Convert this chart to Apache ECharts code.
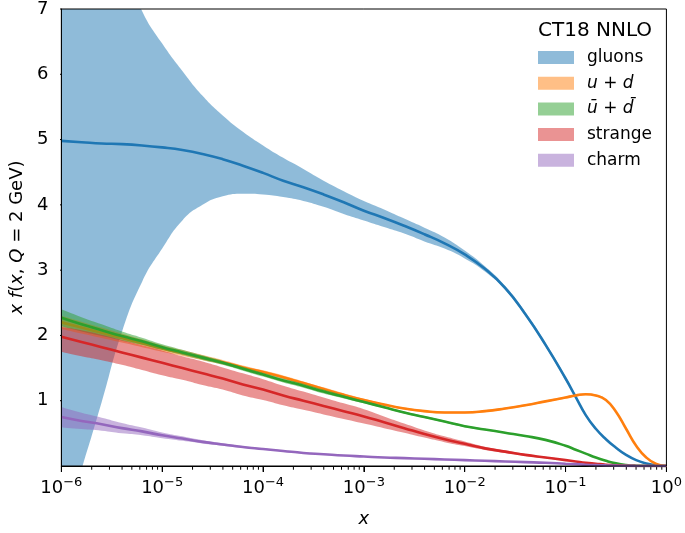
<!DOCTYPE html>
<html><head><meta charset="utf-8">
<script src="https://cdn.jsdelivr.net/npm/echarts@6/dist/echarts.min.js"></script>
<style>html,body{margin:0;padding:0;background:#fff}#c{width:685px;height:533px}</style>
</head><body><div id="c"></div>
<script>
// x sample points: 10^-6 ... 10^-1 every 0.2 decade, then every 0.1 decade up to 1
const xGrid = [1e-6, 1.585e-6, 2.512e-6, 3.981e-6, 6.310e-6,
  1e-5, 1.585e-5, 2.512e-5, 3.981e-5, 6.310e-5,
  1e-4, 1.585e-4, 2.512e-4, 3.981e-4, 6.310e-4,
  1e-3, 1.585e-3, 2.512e-3, 3.981e-3, 6.310e-3,
  1e-2, 1.585e-2, 2.512e-2, 3.981e-2, 6.310e-2,
  0.1, 0.1259, 0.1585, 0.1995, 0.2512, 0.3162, 0.3981, 0.5012, 0.6310, 0.7943, 1.0];

const gluonMid  = [4.98, 4.96, 4.94, 4.93, 4.91, 4.88, 4.84, 4.78, 4.70, 4.60, 4.49, 4.37, 4.27, 4.16, 4.04, 3.91, 3.80, 3.68, 3.55, 3.41, 3.24, 3.02, 2.73, 2.33, 1.86, 1.34, 1.06, 0.78, 0.57, 0.41, 0.28, 0.17, 0.09, 0.04, 0.01, 0];
const gluonLow  = [-1.0, -0.05, 0.98, 2.05, 2.82, 3.33, 3.76, 4.00, 4.13, 4.17, 4.16, 4.12, 4.06, 3.97, 3.86, 3.76, 3.66, 3.56, 3.44, 3.33, 3.18, 2.98, 2.70, 2.30, 1.83, 1.31, 1.04, 0.76, 0.55, 0.40, 0.27, 0.16, 0.085, 0.037, 0.009, 0];
const gluonHigh = [10.5, 9.6, 8.75, 7.75, 6.97, 6.47, 6.05, 5.67, 5.37, 5.12, 4.91, 4.72, 4.55, 4.37, 4.21, 4.06, 3.93, 3.79, 3.65, 3.50, 3.30, 3.06, 2.76, 2.36, 1.89, 1.37, 1.08, 0.80, 0.59, 0.42, 0.29, 0.18, 0.095, 0.043, 0.011, 0];

const udMid  = [2.20, 2.12, 2.04, 1.96, 1.88, 1.80, 1.73, 1.66, 1.59, 1.51, 1.44, 1.36, 1.27, 1.18, 1.09, 1.01, 0.94, 0.88, 0.84, 0.82, 0.82, 0.84, 0.88, 0.93, 0.99, 1.05, 1.08, 1.10, 1.08, 1.01, 0.83, 0.57, 0.31, 0.13, 0.03, 0];
const udLow  = [2.10, 2.03, 1.96, 1.89, 1.82, 1.75, 1.685, 1.62, 1.555, 1.48, 1.415, 1.335, 1.245, 1.155, 1.065, 0.99, 0.925, 0.865, 0.825, 0.805, 0.805, 0.825, 0.865, 0.915, 0.975, 1.035, 1.065, 1.085, 1.065, 0.995, 0.82, 0.56, 0.305, 0.127, 0.028, 0];
const udHigh = [2.30, 2.21, 2.12, 2.03, 1.94, 1.85, 1.775, 1.70, 1.625, 1.54, 1.465, 1.385, 1.295, 1.205, 1.115, 1.03, 0.955, 0.895, 0.855, 0.835, 0.835, 0.855, 0.895, 0.945, 1.005, 1.065, 1.095, 1.115, 1.095, 1.025, 0.84, 0.58, 0.315, 0.133, 0.032, 0];

const seaMid  = [2.27, 2.17, 2.08, 1.99, 1.91, 1.82, 1.74, 1.66, 1.58, 1.49, 1.40, 1.31, 1.23, 1.14, 1.06, 0.98, 0.90, 0.82, 0.75, 0.68, 0.61, 0.56, 0.51, 0.46, 0.40, 0.31, 0.25, 0.19, 0.13, 0.08, 0.04, 0.015, 0.004, 0.001, 0, 0];
const seaLow  = [2.14, 2.06, 1.99, 1.92, 1.855, 1.775, 1.70, 1.625, 1.55, 1.46, 1.37, 1.28, 1.20, 1.11, 1.035, 0.96, 0.885, 0.805, 0.735, 0.665, 0.595, 0.548, 0.50, 0.45, 0.39, 0.30, 0.242, 0.182, 0.124, 0.075, 0.036, 0.012, 0.003, 0.001, 0, 0];
const seaHigh = [2.40, 2.28, 2.17, 2.06, 1.965, 1.865, 1.78, 1.695, 1.61, 1.52, 1.43, 1.34, 1.26, 1.17, 1.085, 1.00, 0.915, 0.835, 0.765, 0.695, 0.625, 0.572, 0.52, 0.47, 0.41, 0.32, 0.258, 0.198, 0.136, 0.085, 0.044, 0.018, 0.005, 0.001, 0, 0];

const strMid  = [1.98, 1.90, 1.82, 1.74, 1.66, 1.58, 1.50, 1.42, 1.34, 1.25, 1.17, 1.08, 1.00, 0.92, 0.84, 0.76, 0.67, 0.58, 0.49, 0.41, 0.34, 0.27, 0.22, 0.17, 0.13, 0.09, 0.07, 0.05, 0.035, 0.02, 0.01, 0.004, 0.001, 0, 0, 0];
const strLow  = [1.75, 1.68, 1.62, 1.55, 1.47, 1.39, 1.32, 1.24, 1.17, 1.08, 1.01, 0.93, 0.86, 0.79, 0.72, 0.65, 0.58, 0.51, 0.435, 0.365, 0.305, 0.245, 0.20, 0.155, 0.118, 0.08, 0.062, 0.044, 0.031, 0.017, 0.008, 0.003, 0.001, 0, 0, 0];
const strHigh = [2.13, 2.08, 2.01, 1.93, 1.85, 1.77, 1.68, 1.60, 1.51, 1.42, 1.33, 1.23, 1.14, 1.05, 0.96, 0.87, 0.76, 0.65, 0.545, 0.455, 0.375, 0.295, 0.24, 0.185, 0.142, 0.10, 0.078, 0.056, 0.039, 0.023, 0.012, 0.005, 0.001, 0, 0, 0];

const chmMid  = [0.75, 0.69, 0.64, 0.58, 0.53, 0.47, 0.42, 0.37, 0.33, 0.29, 0.26, 0.23, 0.20, 0.18, 0.16, 0.145, 0.13, 0.12, 0.11, 0.10, 0.09, 0.08, 0.07, 0.06, 0.05, 0.035, 0.028, 0.02, 0.014, 0.009, 0.005, 0.002, 0.001, 0, 0, 0];
const chmLow  = [0.595, 0.565, 0.54, 0.50, 0.47, 0.425, 0.385, 0.345, 0.31, 0.275, 0.248, 0.22, 0.19, 0.17, 0.152, 0.137, 0.123, 0.113, 0.104, 0.094, 0.085, 0.075, 0.065, 0.056, 0.046, 0.032, 0.025, 0.018, 0.012, 0.008, 0.004, 0.002, 0.001, 0, 0, 0];
const chmHigh = [0.905, 0.815, 0.74, 0.66, 0.59, 0.515, 0.455, 0.395, 0.35, 0.305, 0.272, 0.24, 0.21, 0.19, 0.168, 0.153, 0.137, 0.127, 0.116, 0.106, 0.095, 0.085, 0.075, 0.064, 0.054, 0.038, 0.031, 0.022, 0.016, 0.010, 0.006, 0.002, 0.001, 0, 0, 0];

const legendTitle = 'CT18 NNLO';
const seriesNames = ['gluons', 'u + d', 'ū + d̄', 'strange', 'charm'];
const yTickValues = [1, 2, 3, 4, 5, 6, 7];
const xMajorTicks = [1e-6, 1e-5, 1e-4, 1e-3, 1e-2, 1e-1, 1];

const FONT = 'DejaVu Sans';
const colors = ['#1f77b4', '#ff7f0e', '#2ca02c', '#d62728', '#9467bd'];
const bandColors = ['rgba(31,119,180,0.5)', 'rgba(255,127,14,0.5)', 'rgba(44,160,44,0.5)', 'rgba(214,39,40,0.5)', 'rgba(148,103,189,0.5)'];
const groups = [
  [gluonLow, gluonHigh, gluonMid],
  [udLow, udHigh, udMid],
  [seaLow, seaHigh, seaMid],
  [strLow, strHigh, strMid],
  [chmLow, chmHigh, chmMid]
];

// minor tick positions of the log axis (2..9 x 10^n)
const minorTicks = [];
for (let e = -6; e < 0; e++) for (let m = 2; m <= 9; m++) minorTicks.push(m * Math.pow(10, e));

const SMOOTH = 0.5;
const series = [];
groups.forEach((g, k) => {
  const [lo, hi, mid] = g;
  // band: lower edge (invisible) + stacked width; data as [y, x] so the stack acts on y
  series.push({
    type: 'line', stack: 'band' + k, stackStrategy: 'all', symbol: 'none', silent: true, smooth: SMOOTH,
    encode: { x: 1, y: 0 },
    data: xGrid.map((x, i) => [lo[i], x]),
    lineStyle: { width: 0, opacity: 0 }, z: 2 + k * 2
  });
  series.push({
    name: seriesNames[k], type: 'line', stack: 'band' + k, stackStrategy: 'all', symbol: 'none', silent: true, smooth: SMOOTH,
    encode: { x: 1, y: 0 },
    data: xGrid.map((x, i) => [hi[i] - lo[i], x]),
    lineStyle: { width: 0, opacity: 0 }, itemStyle: { color: bandColors[k] },
    areaStyle: { color: bandColors[k], opacity: 1 }, z: 2 + k * 2
  });
  series.push({
    type: 'line', symbol: 'none', silent: true, smooth: SMOOTH,
    data: xGrid.map((x, i) => [x, mid[i]]),
    lineStyle: { width: 2.6, color: colors[k] }, z: 3 + k * 2
  });
});

// tick marks drawn as short broken line segments outside the plot (not clipped)
const MINOR_LEN = 0.057;           // ~3.8 px in y units
const MAJOR_LEN = 0.09;            // ~6 px in y units
const YTICK_X0 = 8.64e-7;          // ~6.5 px left of 1e-6 on the log axis
const xTickData = [];
minorTicks.forEach(v => { xTickData.push([v, 0], [v, -MINOR_LEN], [v, null]); });
xMajorTicks.forEach(v => { xTickData.push([v, 0], [v, -MAJOR_LEN], [v, null]); });
const yTickData = [];
yTickValues.forEach(v => { yTickData.push([YTICK_X0, v], [1e-6, v], [1e-6, null]); });
series.push({
  type: 'line', clip: false, symbol: 'none', connectNulls: false,
  lineStyle: { color: '#000', width: 1 }, data: xTickData
});
series.push({
  type: 'line', clip: false, symbol: 'none', connectNulls: false,
  lineStyle: { color: '#000', width: 1 }, data: yTickData
});
// plot frame (spines) on top of the bands
series.push({
  type: 'line', clip: false, symbol: 'none', z: 20,
  lineStyle: { color: '#000', width: 1 },
  data: [[1e-6, 0], [1e-6, 7], [1, 7], [1, 0], [1e-6, 0]]
});

const axisLineStyle = { color: '#000', width: 1 };
const option = {
  animation: false,
  backgroundColor: '#fff',
  grid: { left: 56, right: 17, top: 7, bottom: 60 },
  title: {
    text: legendTitle, left: 538, top: 21, padding: 0,
    textStyle: { fontFamily: FONT, fontSize: 20, fontWeight: 'normal', color: '#000' }
  },
  legend: {
    orient: 'vertical', left: 538, top: 49, padding: 0,
    itemWidth: 36, itemHeight: 13, itemGap: 8.7,
    data: seriesNames.map((n, k) => ({ name: n, icon: 'rect', itemStyle: { color: bandColors[k], borderWidth: 0 } })),
    formatter: name => {
      if (name === 'u + d') return '{i|u} + {i|d}';
      if (name === 'ū + d̄') return '{i|ū} + {i|d̄}';
      return name;
    },
    textStyle: {
      fontFamily: FONT, fontSize: 17, color: '#000', padding: [0, 0, 0, 8],
      rich: { i: { fontFamily: FONT, fontSize: 17, fontStyle: 'italic', color: '#000' } }
    }
  },
  xAxis: [{
    type: 'log', min: 1e-6, max: 1,
    axisLine: { show: true, lineStyle: axisLineStyle },
    axisTick: { show: true, length: 6, lineStyle: { color: '#000', width: 1 } },
    splitLine: { show: false },
    axisLabel: {
      margin: 10, color: '#000',
      formatter: v => {
        const e = Math.round(Math.log10(v));
        return '{b|10}{s|' + (e < 0 ? '\u2212' + (-e) : e) + '}';
      },
      rich: {
        b: { fontFamily: FONT, fontSize: 18, color: '#000', verticalAlign: 'bottom' },
        s: { fontFamily: FONT, fontSize: 13, color: '#000', verticalAlign: 'bottom', padding: [0, 0, 8, 0] }
      }
    },
    name: 'x', nameLocation: 'middle', nameGap: 44,
    nameTextStyle: { fontFamily: FONT, fontSize: 18, fontStyle: 'italic', color: '#000' }
  }],
  yAxis: [{
    type: 'value', min: 0, max: 7, interval: 1,
    axisLine: { show: true, lineStyle: axisLineStyle },
    axisTick: { show: false }, splitLine: { show: false },
    axisLabel: {
      margin: 13, fontFamily: FONT, fontSize: 18, color: '#000',
      formatter: v => (v === 0 ? '' : String(v))
    },
    name: '{i|x} {i|f}({i|x}, {i|Q} = 2 GeV)', nameLocation: 'middle', nameGap: 31,
    nameTextStyle: {
      fontFamily: FONT, fontSize: 18, color: '#000',
      rich: { i: { fontFamily: FONT, fontSize: 18, fontStyle: 'italic', color: '#000' } }
    }
  }],
  series: series
};

const chart = echarts.init(document.getElementById('c'), null, { renderer: 'canvas' });
chart.setOption(option);
</script>
</body></html>
